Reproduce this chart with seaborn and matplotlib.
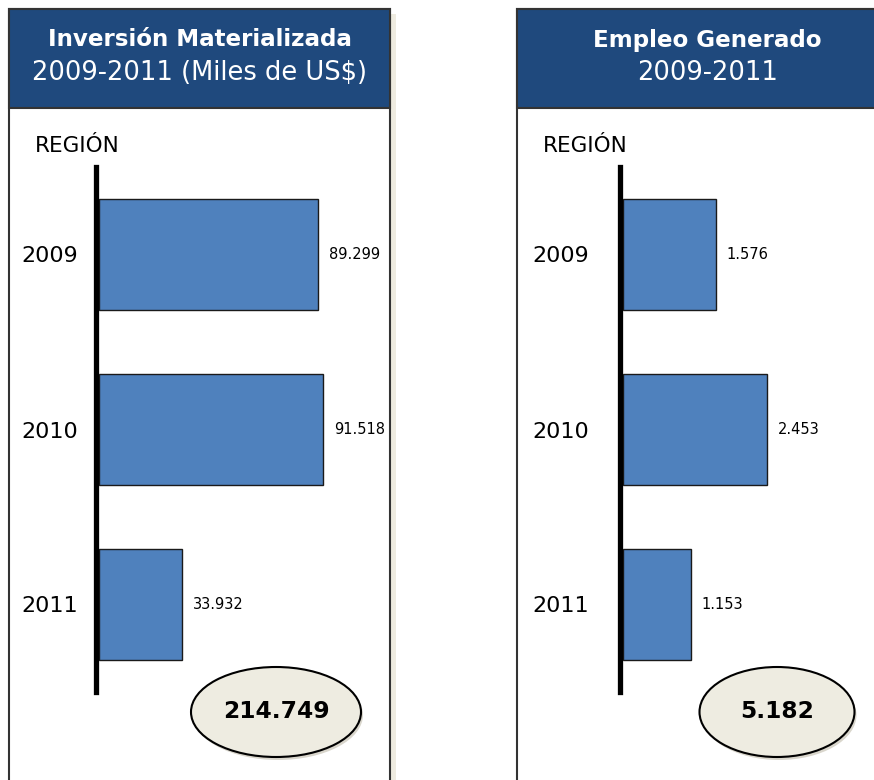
import matplotlib
matplotlib.use("Agg")
import matplotlib.pyplot as plt
from matplotlib.patches import Rectangle, Ellipse
import seaborn as sns
import pandas as pd

years = ["2009", "2010", "2011"]
inversion = [89299, 91518, 33932]   # miles de US$
empleo = [1576, 2453, 1153]

def fmt(v):
    return f"{v:,}".replace(",", ".")

sns.set_style("white")
plt.rcParams['font.family'] = ['DejaVu Sans']
plt.rcParams['text.color'] = 'black'
plt.rcParams['ytick.color'] = 'black'

W, H = 874, 780
fig = plt.figure(figsize=(W / 100, H / 100), dpi=100)

# background layer in pixel coordinates
bg = fig.add_axes([0, 0, 1, 1])
bg.set_xlim(0, W)
bg.set_ylim(H, 0)
bg.axis("off")

navy = "#1F497D"
panels = [
    (9, 381, "Inversión Materializada", "2009-2011 (Miles de US$)"),
    (517, 381, "Empleo Generado", "2009-2011"),
]
for x0, pw, t1, t2 in panels:
    bg.add_patch(Rectangle((x0 + pw + 1, 14), 5, H, color="#EEEBE0", lw=0))
    bg.add_patch(Rectangle((x0, 9), pw, H + 20, facecolor="white", edgecolor="#333333", lw=1.5))
    bg.add_patch(Rectangle((x0, 9), pw, 99, facecolor=navy, edgecolor="#333333", lw=1.5))
    cx = x0 + pw / 2
    bg.text(cx, 40, t1, color="white", fontsize=16.6, fontweight="bold", ha="center", va="center")
    bg.text(cx, 73, t2, color="white", fontsize=18.5, ha="center", va="center")
    bg.text(x0 + 26, 146, "REGIÓN", fontsize=15.5, ha="left", va="center")

def bar_panel(left, width, px_per_k, values, pad):
    ax = fig.add_axes([left / W, (H - 692) / H, width / W, 525 / H])
    df = pd.DataFrame({"year": years, "value": values})
    sns.barplot(data=df, x="value", y="year", orient="h", color="#4F81BD",
                edgecolor="#1a1a1a", linewidth=1, width=0.63, saturation=1, ax=ax)
    ax.set_xlim(0, width / px_per_k * 1000)
    ax.set_ylim(2.5, -0.5)
    ax.patch.set_alpha(0)
    for s in ["top", "right", "bottom"]:
        ax.spines[s].set_visible(False)
    ax.spines["left"].set_linewidth(3.8)
    ax.spines["left"].set_color("black")
    ax.spines["left"].set_position(("outward", 2.2))
    ax.set_xticks([])
    ax.tick_params(axis="y", length=0, pad=pad, labelsize=16)
    ax.set_xlabel("")
    ax.set_ylabel("")
    ax.bar_label(ax.containers[0], labels=[fmt(v) for v in values], padding=8, fontsize=10.5)
    return ax

bar_panel(99, 287, 2.45, inversion, 13)
bar_panel(623, 247, 58.7, empleo, 22)

# totals
for (cx, ew), vals in [((276, 170), inversion), ((777, 155), empleo)]:
    bg.add_patch(Ellipse((cx + 2, 715), ew, 90, facecolor="#D9D6CC", lw=0))
    bg.add_patch(Ellipse((cx, 712), ew, 90, facecolor="#EEECE1", edgecolor="black", lw=1.5))
    bg.text(cx, 712, fmt(sum(vals)), fontsize=16.8, fontweight="bold", ha="center", va="center")

fig.savefig("out.png", dpi=100)
